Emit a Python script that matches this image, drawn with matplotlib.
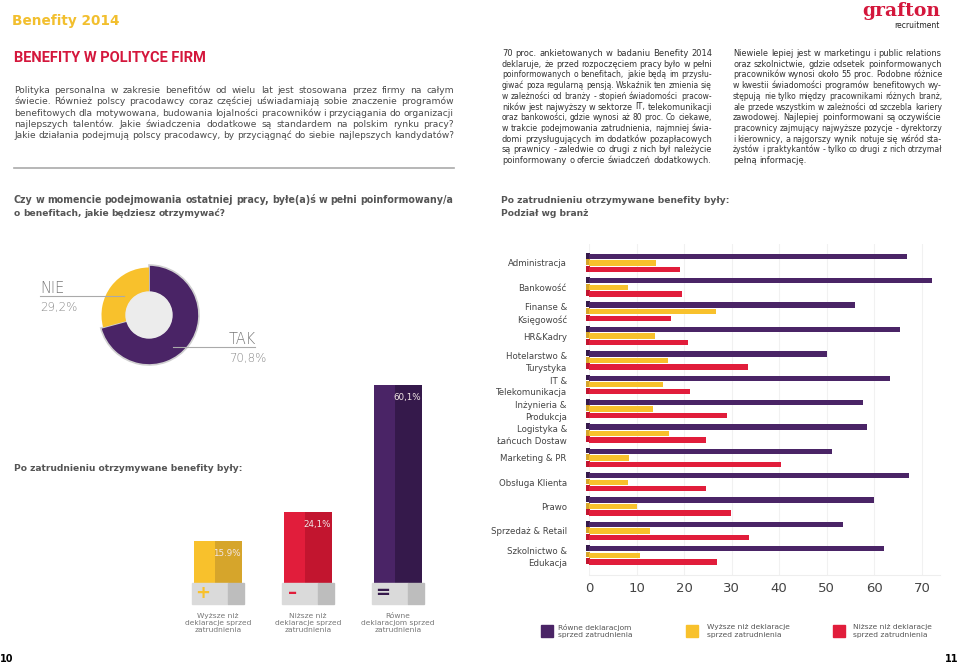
import numpy as np
import matplotlib
matplotlib.use("Agg")
import matplotlib.pyplot as plt
from matplotlib.patches import Rectangle

plt.rcParams["font.family"] = ["DejaVu Sans"]

W, H = 959, 664

# ---------------- data ----------------
donut_labels = ["TAK", "NIE"]
donut_values = [70.8, 29.2]

change_labels = ["Wyższe niż\ndeklaracje sprzed\nzatrudnienia",
                 "Niższe niż\ndeklaracje sprzed\nzatrudnienia",
                 "Równe\ndeklaracjom sprzed\nzatrudnienia"]
change_values = [15.9, 24.1, 60.1]
change_texts = ["15.9%", "24,1%", "60,1%"]
change_signs = ["+", "–", "="]

branze = ["Administracja", "Bankowość", "Finanse &\nKsięgowość", "HR&Kadry",
          "Hotelarstwo &\nTurystyka", "IT &\nTelekomunikacja", "Inżynieria &\nProdukcja",
          "Logistyka &\nŁańcuch Dostaw", "Marketing & PR", "Obsługa Klienta", "Prawo",
          "Sprzedaż & Retail", "Szkolnictwo &\nEdukacja"]
rowne = [66.9, 72.2, 56.0, 65.3, 50.0, 63.3, 57.6, 58.4, 51.1, 67.2, 60.0, 53.5, 62.1]
wyzsze = [14.1, 8.2, 26.8, 13.9, 16.6, 15.5, 13.4, 16.8, 8.5, 8.2, 10.0, 12.9, 10.8]
nizsze = [19.2, 19.6, 17.3, 20.8, 33.4, 21.2, 29.0, 24.7, 40.4, 24.7, 29.9, 33.6, 26.9]
x_ticks = [0, 10, 20, 30, 40, 50, 60, 70]

legend_labels = ["Równe deklaracjom\nsprzed zatrudnienia",
                 "Wyższe niż deklaracje\nsprzed zatrudnienia",
                 "Niższe niż deklaracje\nsprzed zatrudnienia"]

intro = ["Polityka personalna w zakresie benefitów od wielu lat jest stosowana przez firmy na całym",
         "świecie. Również polscy pracodawcy coraz częściej uświadamiają sobie znaczenie programów",
         "benefitowych dla motywowana, budowania lojalności pracowników i przyciągania do organizacji",
         "najlepszych talentów.  Jakie świadczenia dodatkowe są standardem na polskim rynku pracy?",
         "Jakie działania podejmują polscy pracodawcy, by przyciągnąć do siebie najlepszych kandydatów?"]
col1 = ["70 proc. ankietowanych w badaniu Benefity 2014",
        "deklaruje, że przed rozpoczęciem pracy było w pełni",
        "poinformowanych o benefitach, jakie będą im przysłu-",
        "giwać poza regularną pensją. Wskaźnik ten zmienia się",
        "w zależności od branży - stopień świadomości  pracow-",
        "ników jest najwyższy w sektorze IT, telekomunikacji",
        "oraz bankowości, gdzie wynosi aż 80 proc. Co ciekawe,",
        "w trakcie podejmowania zatrudnienia, najmniej świa-",
        "domi przysługujących im dodatków pozapłacowych",
        "są prawnicy - zaledwie co drugi z nich był należycie",
        "poinformowany o ofercie świadczeń dodatkowych."]
col2 = ["Niewiele lepiej jest w marketingu i public relations",
        "oraz szkolnictwie, gdzie odsetek poinformowanych",
        "pracowników wynosi około 55 proc. Podobne różnice",
        "w kwestii świadomości programów benefitowych wy-",
        "stępują nie tylko między pracownikami różnych branż,",
        "ale przede wszystkim w zależności od szczebla kariery",
        "zawodowej. Najlepiej poinformowani są oczywiście",
        "pracownicy zajmujący najwyższe pozycje - dyrektorzy",
        "i kierownicy, a najgorszy wynik notuje się wśród sta-",
        "żystów i praktykantów - tylko co drugi  z nich otrzymał",
        "pełną informację."]

PURPLE, PURPLE_D = "#4a2466", "#35194b"
YELLOW, YELLOW_D = "#f8c12c", "#d6a52b"
RED, RED_D = "#e11d3b", "#c2152f"
TXT = "#555555"

fig = plt.figure(figsize=(W / 100, H / 100), dpi=100)
renderer = fig.canvas.get_renderer()


def fx(x):
    return x / W


def fy(y):
    return 1 - y / H


def px_axes(l, t, r, b):
    return fig.add_axes([fx(l), fy(b), (r - l) / W, (b - t) / H])


def line_text(x0, x1, y, line, size, weight="normal", color=TXT, justify=True):
    # each word placed separately so the line fills x0..x1 like the justified print
    words = line.split()
    arts = [fig.text(0, fy(y), w, fontsize=size, fontweight=weight, color=color,
                     va="baseline", ha="left") for w in words]
    widths = [a.get_window_extent(renderer).width for a in arts]
    space = size * 100 / 72 * 0.28
    total = sum(widths) + space * (len(words) - 1)
    if total > x1 - x0:
        k = (x1 - x0) / total
        size = size * k
        for a in arts:
            a.set_fontsize(size)
        widths = [w * k for w in widths]
        space *= k
    if justify and len(words) > 1:
        gap = (x1 - x0 - sum(widths)) / (len(words) - 1)
    else:
        gap = space
    x = x0
    for a, w in zip(arts, widths):
        a.set_x(fx(x))
        x += w + gap


# ---------------- header ----------------
fig.text(fx(12), fy(25), "Benefity 2014", fontsize=9.8, color="#f2bf2e", fontweight="bold")
fig.text(fx(14), fy(62), "BENEFITY W POLITYCE FIRM", fontsize=10.5, color="#d4173c",
         fontweight="bold", family=["Roboto", "DejaVu Sans"])
fig.text(fx(940), fy(16), "grafton", fontsize=13.5, color="#d4173c", fontweight="bold",
         family="DejaVu Serif", ha="right")
fig.text(fx(940), fy(28), "recruitment", fontsize=5.5, color="#222222", ha="right")

for i, ln in enumerate(intro):
    line_text(14, 454, 93 + i * 11.3, ln, 6.6, color="#4a4a4a")
fig.add_artist(plt.Line2D([fx(14), fx(454)], [fy(168), fy(168)], color="#aaaaaa", lw=1.2))

for i, ln in enumerate(col1):
    line_text(502, 712, 56 + i * 10.7, ln, 6.0, color="#333333")
for i, ln in enumerate(col2):
    line_text(733, 942, 56 + i * 10.7, ln, 6.0, color="#333333", justify=i < len(col2) - 1)

line_text(14, 454, 203, "Czy w momencie podejmowania ostatniej pracy, byłe(a)ś w pełni poinformowany/a",
          7.0, weight="bold")
line_text(14, 454, 216, "o benefitach, jakie będziesz otrzymywać?", 6.6, weight="bold", justify=False)
fig.text(fx(501), fy(203), "Po zatrudnieniu otrzymywane benefity były:", fontsize=6.6,
         fontweight="bold", color=TXT)
fig.text(fx(501), fy(216), "Podział wg branż", fontsize=6.6, fontweight="bold", color=TXT)
fig.text(fx(14), fy(471), "Po zatrudnieniu otrzymywane benefity były:", fontsize=6.6,
         fontweight="bold", color=TXT)

# ---------------- donut ----------------
ax_d = px_axes(93, 259, 205, 371)
wedges, _ = ax_d.pie(donut_values, startangle=90, counterclock=False,
                     colors=[PURPLE, YELLOW], radius=1.0,
                     wedgeprops=dict(width=0.56, linewidth=0))
wedges[0].set_edgecolor("#d0d0d0")
wedges[0].set_linewidth(1.2)
wedges[1].set_radius(0.95)
wedges[1].set_width(0.5)
ax_d.add_patch(plt.Circle((0, 0), 0.46, color="#ececec", zorder=5))
ax_d.set_xlim(-1.12, 1.12)
ax_d.set_ylim(-1.12, 1.12)
ax_d.set_aspect("equal")
ax_d.axis("off")

fig.text(fx(40), fy(293), donut_labels[1], fontsize=10.5, color="#777777", fontweight="light")
fig.text(fx(40), fy(311), f"{donut_values[1]:.1f}%".replace(".", ","), fontsize=8.5,
         color="#888888", fontweight="light")
fig.text(fx(229), fy(344), donut_labels[0], fontsize=10.5, color="#777777", fontweight="light")
fig.text(fx(229), fy(362), f"{donut_values[0]:.1f}%".replace(".", ","), fontsize=8.5,
         color="#888888", fontweight="light")
fig.add_artist(plt.Line2D([fx(40), fx(124)], [fy(296), fy(296)], color="#aaaaaa", lw=0.8))
fig.add_artist(plt.Line2D([fx(173), fx(255)], [fy(347), fy(347)], color="#aaaaaa", lw=0.8))

# ---------------- vertical bars ----------------
ax_v = px_axes(170, 380, 446, 610)
xpos = np.arange(len(change_values))
cols = [YELLOW, RED, PURPLE]
cols_d = [YELLOW_D, RED_D, PURPLE_D]
bw = 0.533
ax_v.bar(xpos, change_values, width=bw, color=cols, zorder=2)
ax_v.bar(xpos + bw * 0.22, change_values, width=bw * 0.56, color=cols_d, zorder=2)
for i, v in enumerate(change_values):
    ax_v.add_patch(Rectangle((i - 0.29, -2.0), 0.40, 5.95, color="#dadada", zorder=3, clip_on=False))
    ax_v.add_patch(Rectangle((i + 0.11, -2.0), 0.18, 5.95, color="#bdbdbd", zorder=3, clip_on=False))
    ax_v.text(i - 0.17, 1.0, change_signs[i], color=cols_d[i] if i == 2 else cols[i], fontsize=13,
              fontweight="bold", ha="center", va="center", zorder=4)
    ax_v.text(i + 0.255, v - 3.6, change_texts[i], color="#f3e7e7", fontsize=6.3,
              ha="right", va="center", zorder=4)
    ax_v.text(i, -4.5, change_labels[i], color="#777777", fontsize=5.4, ha="center", va="top",
              linespacing=1.25, clip_on=False)
ax_v.set_xlim(-0.533, 2.533)
ax_v.set_ylim(-3.68, 61.47)
ax_v.axis("off")

# ---------------- horizontal bars ----------------
ax_h = px_axes(589, 244, 940, 575)
y = np.arange(len(branze))
bh = 0.22
off = 0.27
for vals, c, cd, dy in [(rowne, PURPLE, PURPLE_D, -off), (wyzsze, YELLOW, YELLOW_D, 0),
                        (nizsze, RED, RED_D, off)]:
    ax_h.barh(y + dy - 0.03, [1.0] * len(y), left=-0.7, height=bh * 1.1,
              color=cd, zorder=2, clip_on=False)
    ax_h.barh(y + dy, vals, height=bh, color=c, zorder=3)
ax_h.set_xlim(0, 73.8)
ax_h.set_ylim(12.81, -0.78)
ax_h.set_yticks(y)
ax_h.set_yticklabels(branze, fontsize=6.2, color="#444444", linespacing=1.35)
ax_h.set_xticks(x_ticks)
ax_h.set_xticklabels([str(t) for t in x_ticks], fontsize=9.5, color="#444444")
ax_h.tick_params(length=0, axis="y", pad=16)
ax_h.tick_params(length=0, axis="x", pad=5)
ax_h.grid(axis="x", color="#f1f1f1", lw=0.8, zorder=0)
for s in ["top", "right", "left"]:
    ax_h.spines[s].set_visible(False)
ax_h.spines["bottom"].set_color("#eeeeee")

# legend
for (lx, tx), c, lab in zip([(541, 558), (686, 707), (833, 853)], [PURPLE, YELLOW, RED], legend_labels):
    fig.add_artist(Rectangle((fx(lx), fy(637)), 12 / W, 12 / H, color=c, transform=fig.transFigure))
    fig.text(fx(tx), fy(631), lab, fontsize=5.4, color="#555555", va="center", linespacing=1.3)

# page numbers
fig.text(fx(0), fy(662), "10", fontsize=7, fontweight="bold", color="black")
fig.text(fx(958), fy(662), "11", fontsize=7, fontweight="bold", color="black", ha="right")

fig.savefig("out.png", dpi=100, facecolor="white")
